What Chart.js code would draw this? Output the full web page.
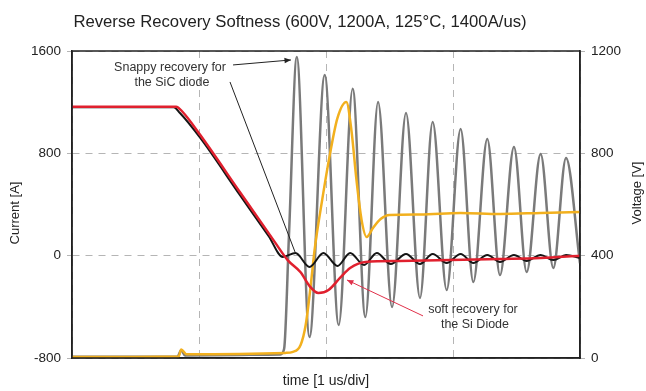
<!DOCTYPE html>
<html>
<head>
<meta charset="utf-8">
<script src="https://cdn.jsdelivr.net/npm/chart.js@4.4.0/dist/chart.umd.min.js"></script>
<style>
  html, body { margin: 0; padding: 0; background: #fff; }
  #wrap { width: 646px; height: 391px; }
</style>
</head>
<body>
<div id="wrap"><canvas id="softnessChart" width="646" height="391"></canvas></div>
<script>
// time axis in us (1 us/div), current in A (left), voltage in V (right)
const sicVoltT = [0, 0.83, 0.86, 0.89, 1.64, 1.67, 1.71, 1.77, 1.87, 1.99, 2.10, 2.21, 2.31, 2.41, 2.52, 2.63, 2.74, 2.84, 2.95, 3.06, 3.16, 3.27, 3.37, 3.48, 3.58, 3.69, 3.79, 3.89, 4.00];
const sicVoltV = [5, 5, 30, 10, 14, 35, 500, 1177, 82, 1106, 129, 1052, 160, 1001, 199, 958, 235, 922, 266, 895, 297, 856, 324, 825, 336, 797, 352, 782, 370];

const siVoltT = [0, 0.84, 0.86, 0.90, 1.68, 1.74, 1.80, 1.84, 1.88, 1.91, 1.97, 2.03, 2.09, 2.16, 2.20, 2.24, 2.28, 2.32, 2.37, 2.43, 2.50, 2.74, 3.06, 3.37, 3.69, 4.00];
const siVoltV = [4, 6, 33, 15, 20, 24, 51, 129, 285, 422, 618, 794, 938, 1001, 891, 696, 540, 473, 508, 543, 559, 561, 567, 563, 567, 571];

const siCurT = [0, 0.82, 0.87, 1.01, 1.32, 1.60, 1.70, 1.80, 1.87, 1.94, 2.02, 2.11, 2.19, 2.31, 2.58, 2.98, 3.37, 3.69, 4.00];
const siCurA = [1165, 1165, 1125, 943, 500, 102, -37, -130, -237, -292, -268, -174, -96, -49, -41, -34, -26, -18, 0];

const sicCurT = [0, 0.80, 0.85, 1.01, 1.32, 1.55, 1.66, 1.76, 1.87, 1.98, 2.09, 2.19, 2.30, 2.40, 2.51, 2.63, 2.74, 2.84, 2.95, 3.06, 3.16, 3.27, 3.37, 3.48, 3.58, 3.69, 3.79, 3.89, 4.00];
const sicCurA = [1160, 1160, 1115, 920, 477, 150, -10, 21, -88, 21, -80, 21, -73, 21, -65, 13, -65, 13, -57, 13, -57, 5, -49, 5, -41, 5, -34, 5, -18];

const currentTicks = [-800, 0, 800, 1600];
const voltageTicks = [0, 400, 800, 1200];

function toPoints(xs, ys) {
  return xs.map((x, i) => ({ x: x, y: ys[i] }));
}

const FONT = "'Liberation Sans', Arial, sans-serif";

function arrow(ctx, x1, y1, x2, y2, color, head) {
  ctx.strokeStyle = color;
  ctx.fillStyle = color;
  ctx.lineWidth = 1;
  ctx.beginPath();
  ctx.moveTo(x1, y1);
  ctx.lineTo(x2, y2);
  ctx.stroke();
  if (!head) return;
  const ang = Math.atan2(y2 - y1, x2 - x1);
  ctx.beginPath();
  ctx.moveTo(x2, y2);
  ctx.lineTo(x2 - 7 * Math.cos(ang - 0.4), y2 - 7 * Math.sin(ang - 0.4));
  ctx.lineTo(x2 - 7 * Math.cos(ang + 0.4), y2 - 7 * Math.sin(ang + 0.4));
  ctx.closePath();
  ctx.fill();
}

const overlayPlugin = {
  id: "overlay",
  afterDatasetsDraw(chart) {
    const { ctx, chartArea: a, scales } = chart;
    const px = (t) => scales.x.getPixelForValue(t);
    const py = (v) => scales.y.getPixelForValue(v);
    ctx.save();
    // frame round the plot
    ctx.strokeStyle = "#222";
    ctx.lineWidth = 1.5;
    ctx.strokeRect(a.left, a.top, a.right - a.left, a.bottom - a.top);
    // annotations
    arrow(ctx, px(1.268), py(1491), px(1.724), py(1530), "#222", true);
    arrow(ctx, px(1.244), py(1358), px(1.756), py(29), "#222", false);
    arrow(ctx, px(2.764), py(-471), px(2.165), py(-190), "#e0304a", true);
    ctx.fillStyle = "#333";
    ctx.font = "12.5px " + FONT;
    ctx.textAlign = "center";
    ctx.textBaseline = "middle";
    ctx.fillText("Snappy recovery for", px(0.772), py(1474));
    ctx.fillText("the SiC diode", px(0.787), py(1350));
    ctx.fillText("soft recovery for", px(3.157), py(-425));
    ctx.fillText("the Si Diode", px(3.173), py(-542));
    ctx.restore();
  },
  afterDraw(chart) {
    const { ctx } = chart;
    ctx.save();
    ctx.fillStyle = "#222";
    ctx.textAlign = "center";
    ctx.textBaseline = "middle";
    ctx.font = "16.7px " + FONT;
    ctx.fillText("Reverse Recovery Softness (600V, 1200A, 125°C, 1400A/us)", 300, 22);
    ctx.font = "13px " + FONT;
    ctx.translate(15, 213);
    ctx.rotate(-Math.PI / 2);
    ctx.fillText("Current [A]", 0, 0);
    ctx.restore();
    ctx.save();
    ctx.fillStyle = "#222";
    ctx.textAlign = "center";
    ctx.textBaseline = "middle";
    ctx.font = "13px " + FONT;
    ctx.translate(637, 193);
    ctx.rotate(-Math.PI / 2);
    ctx.fillText("Voltage [V]", 0, 0);
    ctx.restore();
  },
};

const gridDash = { dash: [7, 6], color: "#222", width: 1.5 };

const softnessChart = new Chart(document.getElementById("softnessChart"), {
  type: "line",
  data: {
    datasets: [
      {
        label: "Si diode current",
        data: toPoints(siCurT, siCurA),
        borderColor: "#e0202e",
        borderWidth: 2.5,
        yAxisID: "y",
        order: 0,
      },
      {
        label: "SiC diode current",
        data: toPoints(sicCurT, sicCurA),
        borderColor: "#151515",
        borderWidth: 2,
        yAxisID: "y",
        order: 1,
      },
      {
        label: "Si diode voltage",
        data: toPoints(siVoltT, siVoltV),
        borderColor: "#f2b01e",
        borderWidth: 2.5,
        yAxisID: "y1",
        order: 2,
      },
      {
        label: "SiC diode voltage",
        data: toPoints(sicVoltT, sicVoltV),
        borderColor: "#7a7a7a",
        borderWidth: 2.5,
        yAxisID: "y1",
        order: 3,
      },
    ],
  },
  options: {
    responsive: false,
    animation: false,
    devicePixelRatio: 1,
    layout: { padding: { top: 51, left: 0, right: 0, bottom: 0 } },
    elements: {
      point: { radius: 0 },
      line: { cubicInterpolationMode: "monotone", fill: false },
    },
    scales: {
      x: {
        type: "linear",
        min: 0,
        max: 4,
        ticks: { display: false, stepSize: 1 },
        grid: { color: "#b5b5b5", lineWidth: 1, drawTicks: false },
        border: gridDash,
        title: {
          display: true,
          text: "time [1 us/div]",
          color: "#222",
          font: { family: FONT, size: 14 },
          padding: { top: 0, bottom: 1 },
        },
        afterFit(scale) {
          scale.height = 33;
        },
      },
      y: {
        position: "left",
        min: -800,
        max: 1600,
        afterBuildTicks(scale) {
          scale.ticks = currentTicks.map((v) => ({ value: v }));
        },
        ticks: {
          color: "#222",
          font: { family: FONT, size: 13.5 },
          padding: 6,
          callback: (v) => String(v),
        },
        grid: { color: "#b5b5b5", lineWidth: 1, tickLength: 5 },
        border: gridDash,
        afterFit(scale) {
          scale.width = 72;
        },
      },
      y1: {
        position: "right",
        min: 0,
        max: 1200,
        afterBuildTicks(scale) {
          scale.ticks = voltageTicks.map((v) => ({ value: v }));
        },
        ticks: {
          color: "#222",
          font: { family: FONT, size: 13.5 },
          padding: 6,
          callback: (v) => String(v),
        },
        grid: { drawOnChartArea: false, color: "#b5b5b5", tickLength: 5 },
        border: { color: "#222", width: 1.5 },
        afterFit(scale) {
          scale.width = 66;
        },
      },
    },
    plugins: {
      legend: { display: false },
      title: { display: false },
      tooltip: { enabled: false },
    },
  },
  plugins: [overlayPlugin],
});
</script>
</body>
</html>
